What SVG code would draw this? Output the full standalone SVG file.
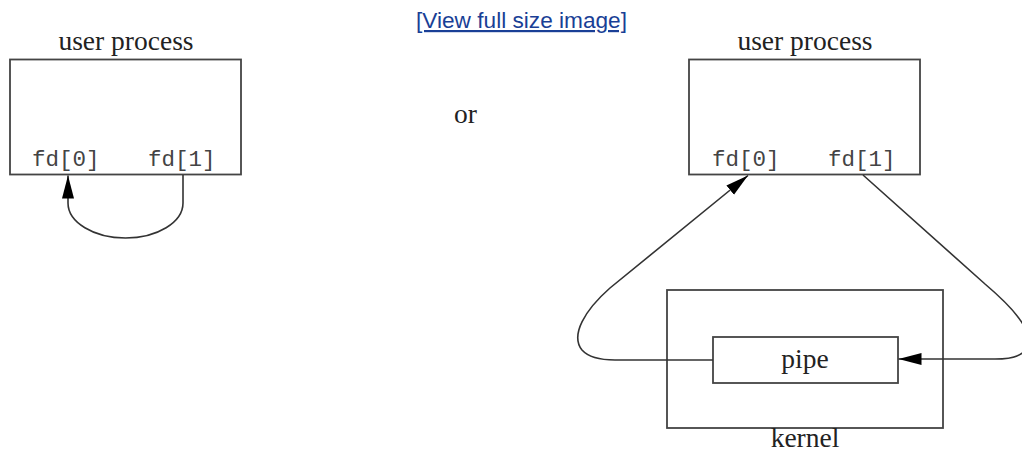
<svg xmlns="http://www.w3.org/2000/svg" width="1022" height="455" viewBox="0 0 1022 455">
<style>
.box{fill:none;stroke:#444;stroke-width:1.8}
.serif{font-family:"Liberation Serif","Times New Roman",serif;font-size:27.5px;fill:#222}
.mono{font-family:"Liberation Mono","Courier New",monospace;font-size:22.5px;fill:#444}
.conn{fill:none;stroke:#333;stroke-width:1.6}
.link{font-family:"Liberation Sans",Arial,sans-serif;font-size:22px;fill:#1a3f96;text-decoration:underline}
</style>
<defs>
<marker id="arr" markerWidth="24" markerHeight="13" refX="23" refY="6.5" orient="auto" markerUnits="userSpaceOnUse">
<path d="M0,0.5 L23,6.5 L0,12.5 Z" fill="#000"/>
</marker>
</defs>
<rect width="1022" height="455" fill="#fff"/>
<text class="link" x="416" y="28" textLength="211" lengthAdjust="spacingAndGlyphs">[View full size image]</text>
<text class="serif" x="454" y="123" font-size="26">or</text>
<g id="left-process">
<text class="serif" x="126" y="50" text-anchor="middle">user process</text>
<rect class="box" x="10" y="59.5" width="231" height="115"/>
<text class="mono" x="32" y="166">fd[0]</text>
<text class="mono" x="148" y="166">fd[1]</text>
</g>
<g id="right-process">
<text class="serif" x="805" y="50" text-anchor="middle">user process</text>
<rect class="box" x="689" y="59.5" width="231" height="115"/>
<text class="mono" x="712" y="166">fd[0]</text>
<text class="mono" x="828" y="166">fd[1]</text>
</g>
<g id="kernel">
<rect class="box" x="667" y="290" width="276" height="138"/>
<text class="serif" x="805" y="447" text-anchor="middle">kernel</text>
</g>
<g id="pipe">
<rect class="box" x="713" y="337" width="185" height="46"/>
<text class="serif" x="805" y="368" text-anchor="middle">pipe</text>
</g>
<g id="connectors">
<path class="conn" d="M183,175 V203 C183,222.3 157.2,238 125.5,238 C93.8,238 68,222.3 68,203 V175.5" marker-end="url(#arr)"/>
<path class="conn" d="M713,360 H615 C605,360 590,359 582,350 C570,335 585,310 610,288 L748,175.5" marker-end="url(#arr)"/>
<path class="conn" d="M863,175 L985,284 C1018,312 1036,335 1025,350 C1020,358 1005,359 995,359 H898.5" marker-end="url(#arr)"/>
</g>
</svg>
